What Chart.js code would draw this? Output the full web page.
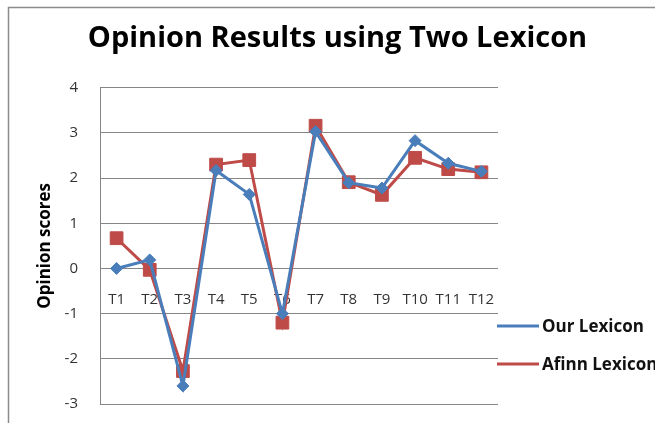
<!DOCTYPE html>
<html>
<head>
<meta charset="utf-8">
<script src="https://cdn.jsdelivr.net/npm/chart.js@4"></script>
<style>
  html, body { margin: 0; padding: 0; background: #fff; }
  #wrap { width: 655px; height: 423px; }
</style>
</head>
<body>
<div id="wrap"><canvas id="opinionChart"></canvas></div>
<script>
const topics = ['T1','T2','T3','T4','T5','T6','T7','T8','T9','T10','T11','T12'];
const ourLexicon = [0, 0.19, -2.6, 2.17, 1.64, -1.0, 3.03, 1.9, 1.78, 2.83, 2.33, 2.15];
const afinnLexicon = [0.67, -0.03, -2.27, 2.3, 2.4, -1.2, 3.16, 1.91, 1.63, 2.45, 2.2, 2.13];
const yMin = -3;
const yMax = 4;

const blue = '#4a7ebb';
const red = '#be4b48';
const gridGray = '#868686';
const font = "'Open Sans', 'DejaVu Sans', sans-serif";

// grey frame round the chart, like the pasted Excel picture
const framePlugin = {
    id: 'frame',
    beforeDraw(chart){
        const ctx = chart.ctx;
        ctx.save();
        ctx.strokeStyle = '#8c8c8c';
        ctx.lineWidth = 1.5;
        ctx.beginPath();
        ctx.moveTo(8.5, chart.height);
        ctx.lineTo(8.5, 7.5);
        ctx.lineTo(chart.width, 7.5);
        ctx.stroke();
        ctx.restore();
    }
};

// Excel style legend: line with marker, then the label
const legendPlugin = {
    id: 'lineLegend',
    afterDraw(chart){
        const ctx = chart.ctx;
        const x0 = 497, x1 = 539, tx = 542;
        const rows = [326, 364];
        ctx.save();
        chart.data.datasets.forEach((ds, i) => {
            const y = rows[i];
            ctx.strokeStyle = ds.borderColor;
            ctx.lineWidth = ds.borderWidth;
            ctx.beginPath();
            ctx.moveTo(x0, y);
            ctx.lineTo(x1, y);
            ctx.stroke();
            ctx.fillStyle = ds.pointBackgroundColor;
            ctx.strokeStyle = ds.pointBackgroundColor;
            ctx.lineWidth = 1;
            Chart.helpers.drawPoint(ctx, {
                pointStyle: ds.pointStyle,
                rotation: 0,
                borderWidth: 1
            }, (x0 + x1) / 2, y, ds.pointRadius);
            ctx.fillStyle = '#111';
            ctx.font = "bold 17px " + font;
            ctx.textBaseline = 'middle';
            ctx.textAlign = 'left';
            ctx.fillText(ds.label, tx, y + 1);
        });
        ctx.restore();
    }
};

new Chart(document.getElementById('opinionChart'), {
    type: 'line',
    data: {
        labels: topics,
        datasets: [{
            label: 'Our Lexicon',
            data: ourLexicon,
            borderColor: blue,
            backgroundColor: blue,
            pointBackgroundColor: blue,
            pointBorderColor: blue,
            borderWidth: 3,
            pointStyle: 'rectRot',
            pointRadius: 6,
            pointBorderWidth: 1,
            tension: 0
        }, {
            label: 'Afinn Lexicon',
            data: afinnLexicon,
            borderColor: red,
            backgroundColor: red,
            pointBackgroundColor: red,
            pointBorderColor: red,
            borderWidth: 3,
            pointStyle: 'rect',
            pointRadius: 9,
            pointBorderWidth: 1,
            tension: 0
        }]
    },
    options: {
        responsive: true,
        maintainAspectRatio: false,
        animation: false,
        layout: {
            padding: { left: 20, right: 0, top: 0, bottom: 19 }
        },
        plugins: {
            legend: { display: false },
            tooltip: { enabled: false },
            title: {
                display: true,
                text: 'Opinion Results using Two Lexicon',
                color: '#000',
                font: { family: font, size: 29, weight: 'bold' },
                padding: { top: 21, bottom: 32 }
            }
        },
        scales: {
            x: {
                position: { y: 0 },
                offset: true,
                grid: { display: false },
                border: { display: false },
                ticks: {
                    color: '#333',
                    font: { family: font, size: 15 },
                    padding: 14,
                    maxRotation: 0,
                    autoSkip: false
                }
            },
            y: {
                min: yMin,
                max: yMax,
                afterFit(scale){
                    scale.width = 80;
                    // tick padding is horizontal here, don't let it eat vertical room
                    scale.paddingTop = 10;
                    scale.paddingBottom = 10;
                },
                grid: { color: gridGray, drawTicks: false },
                border: { display: true, color: gridGray },
                ticks: {
                    stepSize: 1,
                    color: '#333',
                    font: { family: font, size: 15 },
                    padding: 22
                },
                title: {
                    display: true,
                    text: 'Opinion scores',
                    color: '#000',
                    font: { family: font, size: 17, weight: 'bold' },
                    padding: { top: 15, bottom: 0 }
                }
            },
            yRight: {
                position: 'right',
                display: true,
                afterFit(scale){ scale.width = 157; },
                grid: { display: false },
                border: { display: false },
                ticks: { display: false }
            }
        }
    },
    plugins: [framePlugin, legendPlugin]
});
</script>
</body>
</html>
